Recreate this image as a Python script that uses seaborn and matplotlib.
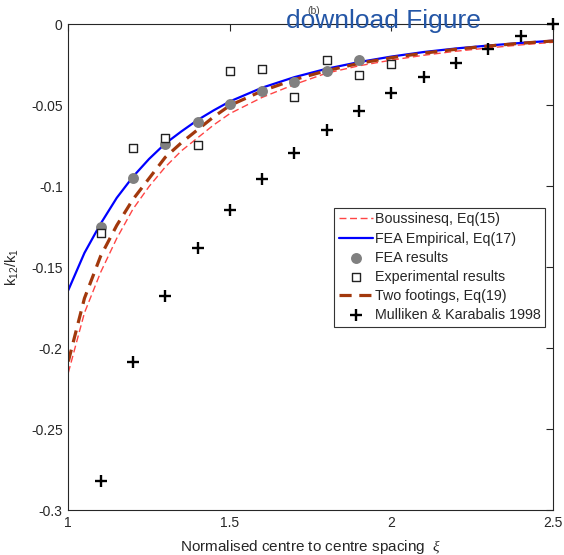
import matplotlib
matplotlib.use("Agg")
import matplotlib.pyplot as plt
import pandas as pd
import seaborn as sns

# ---- data ----
xi_curve = [1.0, 1.05, 1.1, 1.15, 1.2, 1.25, 1.3, 1.35, 1.4, 1.45, 1.5,
            1.6, 1.7, 1.8, 1.9, 2.0, 2.1, 2.2, 2.3, 2.4, 2.5]
boussinesq = [-0.215, -0.178, -0.153, -0.132, -0.114, -0.100, -0.088, -0.078,
              -0.070, -0.062, -0.055, -0.045, -0.037, -0.030, -0.0255, -0.022,
              -0.019, -0.0165, -0.0145, -0.0126, -0.011]
fea_empirical = [-0.164, -0.141, -0.123, -0.107, -0.094, -0.083, -0.0735, -0.066,
                 -0.059, -0.053, -0.0475, -0.039, -0.0325, -0.0273, -0.0232,
                 -0.0198, -0.017, -0.0148, -0.013, -0.0114, -0.010]
two_footings = [-0.208, -0.169, -0.143, -0.124, -0.108, -0.095, -0.082, -0.073,
                -0.065, -0.057, -0.050, -0.041, -0.034, -0.0285, -0.024,
                -0.0205, -0.0177, -0.0153, -0.0133, -0.0116, -0.0102]

xi_fea = [1.1, 1.2, 1.3, 1.4, 1.5, 1.6, 1.7, 1.8, 1.9]
fea_results = [-0.125, -0.095, -0.074, -0.060, -0.049, -0.041, -0.0355, -0.029, -0.022]

xi_exp = [1.1, 1.2, 1.3, 1.4, 1.5, 1.6, 1.7, 1.8, 1.9, 2.0]
exp_results = [-0.129, -0.076, -0.070, -0.0745, -0.029, -0.0275, -0.045,
               -0.0222, -0.031, -0.0243]

xi_mk = [1.1, 1.2, 1.3, 1.4, 1.5, 1.6, 1.7, 1.8, 1.9, 2.0, 2.1, 2.2, 2.3, 2.4, 2.5]
mulliken = [-0.2815, -0.2086, -0.1675, -0.1378, -0.1144, -0.0955, -0.0796,
            -0.0654, -0.0533, -0.0424, -0.0325, -0.0236, -0.0152, -0.0071, 0.0]

labels = ["Boussinesq, Eq(15)", "FEA Empirical, Eq(17)", "FEA results",
          "Experimental results", "Two footings, Eq(19)", "Mulliken & Karabalis 1998"]

x_ticks = [1, 1.5, 2, 2.5]
x_tick_labels = ["1", "1.5", "2", "2.5"]
y_ticks = [-0.3, -0.25, -0.2, -0.15, -0.1, -0.05, 0]
y_tick_labels = ["-0.3", "-0.25", "-0.2", "-0.15", "-0.1", "-0.05", "0"]

# ---- style ----
sns.set_style("white")
plt.rcParams["font.family"] = ["Liberation Sans", "DejaVu Sans"]
plt.rcParams["mathtext.fontset"] = "custom"
plt.rcParams["mathtext.rm"] = "Liberation Sans"
plt.rcParams["mathtext.it"] = "Liberation Serif:italic"

fig = plt.figure(figsize=(5.64, 5.55), dpi=100)
ax = fig.add_axes([0.1211, 0.0802, 0.9805 - 0.1211, 0.9559 - 0.0802])

curves = pd.DataFrame({"xi": xi_curve, "bous": boussinesq,
                       "emp": fea_empirical, "two": two_footings})

sns.lineplot(data=curves, x="xi", y="bous", ax=ax, color="#FF4545", lw=1.0,
             linestyle=(0, (5, 2.6)), label=labels[0])
sns.lineplot(data=curves, x="xi", y="emp", ax=ax, color="#0000FF", lw=1.6,
             label=labels[1])
sns.scatterplot(x=xi_fea, y=fea_results, ax=ax, color="#808080", s=62,
                linewidth=0, label=labels[2], zorder=3)
sns.scatterplot(x=xi_exp, y=exp_results, ax=ax, marker="s", s=40,
                facecolor="white", edgecolor="#222222", linewidth=1.0,
                label=labels[3], zorder=4)
sns.lineplot(data=curves, x="xi", y="two", ax=ax, color="#A2380C", lw=2.3,
             linestyle=(0, (3.8, 2.4)), label=labels[4])
sns.scatterplot(x=xi_mk, y=mulliken, ax=ax, marker="+", s=64, color="black",
                linewidth=1.7, label=labels[5], zorder=5, clip_on=False)

ax.set_xlim(1, 2.5)
ax.set_ylim(-0.3, 0)
ax.set_xticks(x_ticks)
ax.set_xticklabels(x_tick_labels)
ax.set_yticks(y_ticks)
ax.set_yticklabels(y_tick_labels)
ax.tick_params(direction="in", length=5, width=0.8, top=True, right=True,
               labelsize=10, colors="#262626", pad=4)
for sp in ax.spines.values():
    sp.set_visible(True)
    sp.set_color("#262626")
    sp.set_linewidth(0.8)

ax.set_xlabel(r"Normalised centre to centre spacing  $\xi$", fontsize=11,
              color="#262626", labelpad=6)
ax.set_ylabel(r"k$_{\mathrm{12}}$/k$_{\mathrm{1}}$", fontsize=10.5,
              color="#262626", labelpad=7)

leg = ax.legend(loc="upper left", bbox_to_anchor=(0.549, 0.622),
                fontsize=10.3, frameon=True, fancybox=False, edgecolor="#333333",
                framealpha=1, handlelength=2.4, handletextpad=0.15,
                borderpad=0.3, labelspacing=0.36, borderaxespad=0,
                scatterpoints=1)
leg.get_frame().set_linewidth(0.8)

# overlaid page texts visible in the reference
fig.text(314 / 564, 1 - 11 / 555, "(b)", fontsize=7.5, color="#444444",
         ha="center", va="center")
fig.text(383 / 564, 1 - 28 / 555, "download Figure", fontsize=19,
         color="#2456A6", ha="center", va="baseline")

fig.savefig("out.png", dpi=100)
